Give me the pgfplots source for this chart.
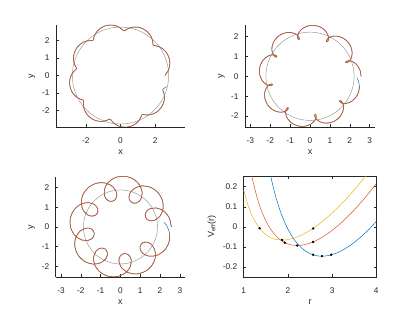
\documentclass[border=0pt]{standalone}
\usepackage{fontspec}
\setmainfont{Liberation Sans}
\usepackage{pgfplots}
\pgfplotsset{compat=1.18}
\definecolor{mblue}{rgb}{0,0.447,0.741}
\definecolor{morange}{rgb}{0.85,0.325,0.098}
\definecolor{myellow}{rgb}{0.929,0.694,0.125}
\definecolor{axgray}{rgb}{0.15,0.15,0.15}
\definecolor{circgray}{rgb}{0.58,0.58,0.58}
\pgfplotsset{
  base/.style={
    scale only axis, anchor=south west,
    axis line style={axgray, line width=0.5pt, -},
    tick style={axgray, line width=0.5pt},
    major tick length=2.5pt,
    tick align=inside,
    ticklabel style={font=\fontsize{8.3}{10}\selectfont, text=axgray},
    xticklabel style={yshift=-7pt},
    yticklabel style={xshift=-3pt},
    label style={font=\fontsize{9}{11}\selectfont, text=axgray},
    /pgf/number format/assume math mode=true,
  },
  orbit/.style={
    base,
    axis x line*=bottom, axis y line*=left,
    xlabel=x, ylabel=y,
  },
  bl/.style={mblue, line width=0.5pt, smooth, data cs=polar},
  or/.style={morange, line width=0.6pt, smooth, data cs=polar},
  ci/.style={circgray, line width=0.45pt, smooth, data cs=polar},
}
\begin{document}
\begin{tikzpicture}
\path[use as bounding box] (0,0) rectangle (415pt,312pt);
% ---------------- plot 1 ----------------
\begin{axis}[orbit, at={(56pt,185pt)}, width=129pt, height=102pt,
  xmin=-3.72, xmax=3.72, ymin=-2.95, ymax=2.90,
  xtick={-2,0,2}, ytick={-2,-1,0,1,2},
  xlabel style={at={(axis description cs:0.5,-0.242)}, anchor=center},
  ylabel style={at={(axis description cs:-0.186,0.5)}, anchor=center}]
\addplot[ci] coordinates {(0,2.78) (10,2.78) (20,2.78) (30,2.78) (40,2.78) (50,2.78) (60,2.78) (70,2.78) (80,2.78) (90,2.78) (100,2.78) (110,2.78) (120,2.78) (130,2.78) (140,2.78) (150,2.78) (160,2.78) (170,2.78) (180,2.78) (190,2.78) (200,2.78) (210,2.78) (220,2.78) (230,2.78) (240,2.78) (250,2.78) (260,2.78) (270,2.78) (280,2.78) (290,2.78) (300,2.78) (310,2.78) (320,2.78) (330,2.78) (340,2.78) (350,2.78) (360,2.78)};
\addplot[bl] coordinates {
(0,2.570) (0.60,2.578) (1.30,2.600) (3.32,2.678) (6.47,2.783) (10.72,2.883) (15.82,2.954) (21.37,2.980) (26.92,2.954) (32.02,2.883) (36.27,2.783) (39.42,2.678) (41.44,2.600) (42.14,2.578)
(42.74,2.570) (43.34,2.578) (44.04,2.600) (46.06,2.678) (49.21,2.783) (53.46,2.883) (58.56,2.954) (64.11,2.980) (69.66,2.954) (74.76,2.883) (79.01,2.783) (82.16,2.678) (84.18,2.600) (84.88,2.578)
(85.48,2.570) (86.08,2.578) (86.78,2.600) (88.80,2.678) (91.95,2.783) (96.20,2.883) (101.30,2.954) (106.85,2.980) (112.40,2.954) (117.50,2.883) (121.75,2.783) (124.90,2.678) (126.92,2.600) (127.62,2.578)
(128.21,2.570) (128.81,2.578) (129.51,2.600) (131.53,2.678) (134.68,2.783) (138.93,2.883) (144.03,2.954) (149.58,2.980) (155.13,2.954) (160.23,2.883) (164.48,2.783) (167.63,2.678) (169.65,2.600) (170.35,2.578)
(170.95,2.570) (171.55,2.578) (172.25,2.600) (174.27,2.678) (177.42,2.783) (181.67,2.883) (186.77,2.954) (192.32,2.980) (197.87,2.954) (202.97,2.883) (207.22,2.783) (210.37,2.678) (212.39,2.600) (213.09,2.578)
(213.69,2.570) (214.29,2.578) (214.99,2.600) (217.01,2.678) (220.16,2.783) (224.41,2.883) (229.51,2.954) (235.06,2.980) (240.61,2.954) (245.71,2.883) (249.96,2.783) (253.11,2.678) (255.13,2.600) (255.83,2.578)
(256.43,2.570) (257.03,2.578) (257.73,2.600) (259.75,2.678) (262.90,2.783) (267.15,2.883) (272.25,2.954) (277.80,2.980) (283.35,2.954) (288.45,2.883) (292.70,2.783) (295.85,2.678) (297.87,2.600) (298.57,2.578)
(299.17,2.570) (299.77,2.578) (300.47,2.600) (302.49,2.678) (305.64,2.783) (309.89,2.883) (314.99,2.954) (320.54,2.980) (326.09,2.954) (331.19,2.883) (335.44,2.783) (338.59,2.678) (340.61,2.600) (341.31,2.578)
(341.90,2.570) (342.50,2.578) (343.20,2.600) (345.22,2.678) (346.64,2.729)};
\addplot[or] coordinates {
(0,2.570) (0.60,2.578) (1.30,2.600) (3.32,2.678) (6.47,2.783) (10.72,2.883) (15.82,2.954) (21.37,2.980) (26.92,2.954) (32.02,2.883) (36.27,2.783) (39.42,2.678) (41.44,2.600) (42.14,2.578)
(42.74,2.570) (43.34,2.578) (44.04,2.600) (46.06,2.678) (49.21,2.783) (53.46,2.883) (58.56,2.954) (64.11,2.980) (69.66,2.954) (74.76,2.883) (79.01,2.783) (82.16,2.678) (84.18,2.600) (84.88,2.578)
(85.48,2.570) (86.08,2.578) (86.78,2.600) (88.80,2.678) (91.95,2.783) (96.20,2.883) (101.30,2.954) (106.85,2.980) (112.40,2.954) (117.50,2.883) (121.75,2.783) (124.90,2.678) (126.92,2.600) (127.62,2.578)
(128.21,2.570) (128.81,2.578) (129.51,2.600) (131.53,2.678) (134.68,2.783) (138.93,2.883) (144.03,2.954) (149.58,2.980) (155.13,2.954) (160.23,2.883) (164.48,2.783) (167.63,2.678) (169.65,2.600) (170.35,2.578)
(170.95,2.570) (171.55,2.578) (172.25,2.600) (174.27,2.678) (177.42,2.783) (181.67,2.883) (186.77,2.954) (192.32,2.980) (197.87,2.954) (202.97,2.883) (207.22,2.783) (210.37,2.678) (212.39,2.600) (213.09,2.578)
(213.69,2.570) (214.29,2.578) (214.99,2.600) (217.01,2.678) (220.16,2.783) (224.41,2.883) (229.51,2.954) (235.06,2.980) (240.61,2.954) (245.71,2.883) (249.96,2.783) (253.11,2.678) (255.13,2.600) (255.83,2.578)
(256.43,2.570) (257.03,2.578) (257.73,2.600) (259.75,2.678) (262.90,2.783) (267.15,2.883) (272.25,2.954) (277.80,2.980) (283.35,2.954) (288.45,2.883) (292.70,2.783) (295.85,2.678) (297.87,2.600) (298.57,2.578)
(299.17,2.570) (299.77,2.578) (300.47,2.600) (302.49,2.678) (305.64,2.783) (309.89,2.883) (314.99,2.954) (320.54,2.980) (326.09,2.954) (331.19,2.883) (335.44,2.783) (338.59,2.678) (340.61,2.600) (341.31,2.578)
(341.90,2.570)};
\end{axis}
% ---------------- plot 2 ----------------
\begin{axis}[orbit, at={(245pt,185pt)}, width=130pt, height=102pt,
  xmin=-3.27, xmax=3.27, ymin=-2.55, ymax=2.58,
  xtick={-3,-2,-1,0,1,2,3}, ytick={-2,-1,0,1,2},
  xlabel style={at={(axis description cs:0.5,-0.242)}, anchor=center},
  ylabel style={at={(axis description cs:-0.182,0.5)}, anchor=center}]
\addplot[ci] coordinates {(0,2.22) (10,2.22) (20,2.22) (30,2.22) (40,2.22) (50,2.22) (60,2.22) (70,2.22) (80,2.22) (90,2.22) (100,2.22) (110,2.22) (120,2.22) (130,2.22) (140,2.22) (150,2.22) (160,2.22) (170,2.22) (180,2.22) (190,2.22) (200,2.22) (210,2.22) (220,2.22) (230,2.22) (240,2.22) (250,2.22) (260,2.22) (270,2.22) (280,2.22) (290,2.22) (300,2.22) (310,2.22) (320,2.22) (330,2.22) (340,2.22) (350,2.22) (360,2.22)};
\addplot[bl] coordinates {
(0,2.570) (7.18,2.532) (13.68,2.426) (18.78,2.273) (21.80,2.108) (22.48,2.015) (22.21,1.952) (21.37,1.930) (20.53,1.952) (20.26,2.015) (20.94,2.108) (23.96,2.273) (29.06,2.426) (35.56,2.532)
(42.74,2.570) (49.92,2.532) (56.42,2.426) (61.52,2.273) (64.54,2.108) (65.22,2.015) (64.95,1.952) (64.11,1.930) (63.27,1.952) (63.00,2.015) (63.68,2.108) (66.70,2.273) (71.80,2.426) (78.30,2.532)
(85.48,2.570) (92.66,2.532) (99.16,2.426) (104.26,2.273) (107.28,2.108) (107.96,2.015) (107.69,1.952) (106.85,1.930) (106.01,1.952) (105.74,2.015) (106.42,2.108) (109.44,2.273) (114.54,2.426) (121.04,2.532)
(128.21,2.570) (135.39,2.532) (141.89,2.426) (146.99,2.273) (150.01,2.108) (150.69,2.015) (150.42,1.952) (149.58,1.930) (148.74,1.952) (148.47,2.015) (149.15,2.108) (152.17,2.273) (157.27,2.426) (163.77,2.532)
(170.95,2.570) (178.13,2.532) (184.63,2.426) (189.73,2.273) (192.75,2.108) (193.43,2.015) (193.16,1.952) (192.32,1.930) (191.48,1.952) (191.21,2.015) (191.89,2.108) (194.91,2.273) (200.01,2.426) (206.51,2.532)
(213.69,2.570) (220.87,2.532) (227.37,2.426) (232.47,2.273) (235.49,2.108) (236.17,2.015) (235.90,1.952) (235.06,1.930) (234.22,1.952) (233.95,2.015) (234.63,2.108) (237.65,2.273) (242.75,2.426) (249.25,2.532)
(256.43,2.570) (263.61,2.532) (270.11,2.426) (275.21,2.273) (278.23,2.108) (278.91,2.015) (278.64,1.952) (277.80,1.930) (276.96,1.952) (276.69,2.015) (277.37,2.108) (280.39,2.273) (285.49,2.426) (291.99,2.532)
(299.17,2.570) (306.35,2.532) (312.85,2.426) (317.95,2.273) (320.97,2.108) (321.65,2.015) (321.38,1.952) (320.54,1.930) (319.70,1.952) (319.43,2.015) (320.11,2.108) (323.13,2.273) (328.23,2.426) (334.73,2.532)
(341.90,2.570) (349.08,2.532) (355.58,2.426) (358.35,2.353)};
\addplot[or] coordinates {
(0,2.570) (7.18,2.532) (13.68,2.426) (18.78,2.273) (21.80,2.108) (22.48,2.015) (22.21,1.952) (21.37,1.930) (20.53,1.952) (20.26,2.015) (20.94,2.108) (23.96,2.273) (29.06,2.426) (35.56,2.532)
(42.74,2.570) (49.92,2.532) (56.42,2.426) (61.52,2.273) (64.54,2.108) (65.22,2.015) (64.95,1.952) (64.11,1.930) (63.27,1.952) (63.00,2.015) (63.68,2.108) (66.70,2.273) (71.80,2.426) (78.30,2.532)
(85.48,2.570) (92.66,2.532) (99.16,2.426) (104.26,2.273) (107.28,2.108) (107.96,2.015) (107.69,1.952) (106.85,1.930) (106.01,1.952) (105.74,2.015) (106.42,2.108) (109.44,2.273) (114.54,2.426) (121.04,2.532)
(128.21,2.570) (135.39,2.532) (141.89,2.426) (146.99,2.273) (150.01,2.108) (150.69,2.015) (150.42,1.952) (149.58,1.930) (148.74,1.952) (148.47,2.015) (149.15,2.108) (152.17,2.273) (157.27,2.426) (163.77,2.532)
(170.95,2.570) (178.13,2.532) (184.63,2.426) (189.73,2.273) (192.75,2.108) (193.43,2.015) (193.16,1.952) (192.32,1.930) (191.48,1.952) (191.21,2.015) (191.89,2.108) (194.91,2.273) (200.01,2.426) (206.51,2.532)
(213.69,2.570) (220.87,2.532) (227.37,2.426) (232.47,2.273) (235.49,2.108) (236.17,2.015) (235.90,1.952) (235.06,1.930) (234.22,1.952) (233.95,2.015) (234.63,2.108) (237.65,2.273) (242.75,2.426) (249.25,2.532)
(256.43,2.570) (263.61,2.532) (270.11,2.426) (275.21,2.273) (278.23,2.108) (278.91,2.015) (278.64,1.952) (277.80,1.930) (276.96,1.952) (276.69,2.015) (277.37,2.108) (280.39,2.273) (285.49,2.426) (291.99,2.532)
(299.17,2.570) (306.35,2.532) (312.85,2.426) (317.95,2.273) (320.97,2.108) (321.65,2.015) (321.38,1.952) (320.54,1.930) (319.70,1.952) (319.43,2.015) (320.11,2.108) (323.13,2.273) (328.23,2.426) (334.73,2.532)
(341.90,2.570) (349.08,2.532)};
\end{axis}
% ---------------- plot 3 ----------------
\begin{axis}[orbit, at={(55.7pt,35pt)}, width=129.3pt, height=100.3pt,
  xmin=-3.27, xmax=3.26, ymin=-2.53, ymax=2.54,
  xtick={-3,-2,-1,0,1,2,3}, ytick={-2,-1,0,1,2},
  xlabel style={at={(axis description cs:0.5,-0.246)}, anchor=center},
  ylabel style={at={(axis description cs:-0.186,0.5)}, anchor=center}]
\addplot[ci] coordinates {(0,1.87) (10,1.87) (20,1.87) (30,1.87) (40,1.87) (50,1.87) (60,1.87) (70,1.87) (80,1.87) (90,1.87) (100,1.87) (110,1.87) (120,1.87) (130,1.87) (140,1.87) (150,1.87) (160,1.87) (170,1.87) (180,1.87) (190,1.87) (200,1.87) (210,1.87) (220,1.87) (230,1.87) (240,1.87) (250,1.87) (260,1.87) (270,1.87) (280,1.87) (290,1.87) (300,1.87) (310,1.87) (320,1.87) (330,1.87) (340,1.87) (350,1.87) (360,1.87)};
\addplot[bl] coordinates {
(0,2.570) (10.49,2.507) (20.13,2.327) (27.80,2.056) (31.74,1.743) (31.58,1.596) (29.66,1.472) (26.06,1.389) (21.37,1.360) (16.68,1.389) (13.08,1.472) (11.16,1.596) (11.00,1.743) (14.94,2.056) (22.61,2.327) (32.25,2.507)
(42.74,2.570) (53.23,2.507) (62.87,2.327) (70.54,2.056) (74.48,1.743) (74.32,1.596) (72.40,1.472) (68.80,1.389) (64.11,1.360) (59.42,1.389) (55.82,1.472) (53.90,1.596) (53.74,1.743) (57.68,2.056) (65.35,2.327) (74.99,2.507)
(85.48,2.570) (95.97,2.507) (105.61,2.327) (113.28,2.056) (117.22,1.743) (117.06,1.596) (115.14,1.472) (111.54,1.389) (106.85,1.360) (102.16,1.389) (98.56,1.472) (96.64,1.596) (96.48,1.743) (100.42,2.056) (108.09,2.327) (117.73,2.507)
(128.21,2.570) (138.70,2.507) (148.34,2.327) (156.01,2.056) (159.95,1.743) (159.79,1.596) (157.87,1.472) (154.27,1.389) (149.58,1.360) (144.89,1.389) (141.29,1.472) (139.37,1.596) (139.21,1.743) (143.15,2.056) (150.82,2.327) (160.46,2.507)
(170.95,2.570) (181.44,2.507) (191.08,2.327) (198.75,2.056) (202.69,1.743) (202.53,1.596) (200.61,1.472) (197.01,1.389) (192.32,1.360) (187.63,1.389) (184.03,1.472) (182.11,1.596) (181.95,1.743) (185.89,2.056) (193.56,2.327) (203.20,2.507)
(213.69,2.570) (224.18,2.507) (233.82,2.327) (241.49,2.056) (245.43,1.743) (245.27,1.596) (243.35,1.472) (239.75,1.389) (235.06,1.360) (230.37,1.389) (226.77,1.472) (224.85,1.596) (224.69,1.743) (228.63,2.056) (236.30,2.327) (245.94,2.507)
(256.43,2.570) (266.92,2.507) (276.56,2.327) (284.23,2.056) (288.17,1.743) (288.01,1.596) (286.09,1.472) (282.49,1.389) (277.80,1.360) (273.11,1.389) (269.51,1.472) (267.59,1.596) (267.43,1.743) (271.37,2.056) (279.04,2.327) (288.68,2.507)
(299.17,2.570) (309.66,2.507) (319.30,2.327) (326.97,2.056) (330.91,1.743) (330.75,1.596) (328.83,1.472) (325.23,1.389) (320.54,1.360) (315.85,1.389) (312.25,1.472) (310.33,1.596) (310.17,1.743) (314.11,2.056) (321.78,2.327) (331.42,2.507)
(341.90,2.570) (352.39,2.507) (362.03,2.327) (366.20,2.201)};
\addplot[or] coordinates {
(0,2.570) (10.49,2.507) (20.13,2.327) (27.80,2.056) (31.74,1.743) (31.58,1.596) (29.66,1.472) (26.06,1.389) (21.37,1.360) (16.68,1.389) (13.08,1.472) (11.16,1.596) (11.00,1.743) (14.94,2.056) (22.61,2.327) (32.25,2.507)
(42.74,2.570) (53.23,2.507) (62.87,2.327) (70.54,2.056) (74.48,1.743) (74.32,1.596) (72.40,1.472) (68.80,1.389) (64.11,1.360) (59.42,1.389) (55.82,1.472) (53.90,1.596) (53.74,1.743) (57.68,2.056) (65.35,2.327) (74.99,2.507)
(85.48,2.570) (95.97,2.507) (105.61,2.327) (113.28,2.056) (117.22,1.743) (117.06,1.596) (115.14,1.472) (111.54,1.389) (106.85,1.360) (102.16,1.389) (98.56,1.472) (96.64,1.596) (96.48,1.743) (100.42,2.056) (108.09,2.327) (117.73,2.507)
(128.21,2.570) (138.70,2.507) (148.34,2.327) (156.01,2.056) (159.95,1.743) (159.79,1.596) (157.87,1.472) (154.27,1.389) (149.58,1.360) (144.89,1.389) (141.29,1.472) (139.37,1.596) (139.21,1.743) (143.15,2.056) (150.82,2.327) (160.46,2.507)
(170.95,2.570) (181.44,2.507) (191.08,2.327) (198.75,2.056) (202.69,1.743) (202.53,1.596) (200.61,1.472) (197.01,1.389) (192.32,1.360) (187.63,1.389) (184.03,1.472) (182.11,1.596) (181.95,1.743) (185.89,2.056) (193.56,2.327) (203.20,2.507)
(213.69,2.570) (224.18,2.507) (233.82,2.327) (241.49,2.056) (245.43,1.743) (245.27,1.596) (243.35,1.472) (239.75,1.389) (235.06,1.360) (230.37,1.389) (226.77,1.472) (224.85,1.596) (224.69,1.743) (228.63,2.056) (236.30,2.327) (245.94,2.507)
(256.43,2.570) (266.92,2.507) (276.56,2.327) (284.23,2.056) (288.17,1.743) (288.01,1.596) (286.09,1.472) (282.49,1.389) (277.80,1.360) (273.11,1.389) (269.51,1.472) (267.59,1.596) (267.43,1.743) (271.37,2.056) (279.04,2.327) (288.68,2.507)
(299.17,2.570) (309.66,2.507) (319.30,2.327) (326.97,2.056) (330.91,1.743) (330.75,1.596) (328.83,1.472) (325.23,1.389) (320.54,1.360) (315.85,1.389) (312.25,1.472) (310.33,1.596) (310.17,1.743) (314.11,2.056) (321.78,2.327) (331.42,2.507)
(341.90,2.570) (352.39,2.507)};
\end{axis}
% ---------------- plot 4 ----------------
\begin{axis}[base, at={(243.7pt,35pt)}, width=132.6pt, height=100.3pt,
  xmin=1, xmax=4, ymin=-0.25, ymax=0.25,
  xtick={1,2,3,4}, ytick={-0.2,-0.1,0,0.1,0.2},
  xlabel=r, ylabel={V\textsubscript{eff}(r)},
  xlabel style={at={(axis description cs:0.5,-0.246)}, anchor=center},
  ylabel style={at={(axis description cs:-0.24,0.5)}, anchor=center},
  clip=true]
\addplot[myellow, line width=0.5pt, smooth] coordinates {
(1.0,0.1834) (1.1,0.1069) (1.2,0.0515) (1.3,0.0113) (1.4,-0.0178) (1.5,-0.0384) (1.6,-0.0523) (1.7,-0.0609) (1.8,-0.0652) (1.9,-0.0659) (2.0,-0.0635) (2.1,-0.0585) (2.2,-0.0511) (2.3,-0.0417) (2.4,-0.0305) (2.5,-0.0175) (2.6,-0.0030) (2.7,0.0129) (2.8,0.0302) (2.9,0.0488) (3.0,0.0686) (3.1,0.0895) (3.2,0.1116) (3.3,0.1347) (3.4,0.1589) (3.5,0.1841) (3.6,0.2103) (3.7,0.2375) (3.8,0.2657)};
\addplot[morange, line width=0.5pt, smooth] coordinates {
(1.15,0.2907) (1.2,0.2365) (1.3,0.1485) (1.4,0.0815) (1.5,0.0304) (1.6,-0.0086) (1.7,-0.0379) (1.8,-0.0596) (1.9,-0.0750) (2.0,-0.0851) (2.1,-0.0909) (2.2,-0.0929) (2.3,-0.0917) (2.4,-0.0876) (2.5,-0.0810) (2.6,-0.0721) (2.7,-0.0612) (2.8,-0.0484) (2.9,-0.0338) (3.0,-0.0177) (3.1,0.0000) (3.2,0.0191) (3.3,0.0395) (3.4,0.0612) (3.5,0.0842) (3.6,0.1083) (3.7,0.1336) (3.8,0.1600) (3.9,0.1874) (4.0,0.2159)};
\addplot[mblue, line width=0.5pt, smooth] coordinates {
(1.55,0.3163) (1.6,0.2623) (1.7,0.1705) (1.8,0.0965) (1.9,0.0368) (2.0,-0.0112) (2.1,-0.0496) (2.2,-0.0798) (2.3,-0.1032) (2.4,-0.1207) (2.5,-0.1332) (2.6,-0.1412) (2.7,-0.1454) (2.8,-0.1460) (2.9,-0.1436) (3.0,-0.1383) (3.1,-0.1305) (3.2,-0.1204) (3.3,-0.1081) (3.4,-0.0939) (3.5,-0.0778) (3.6,-0.0599) (3.7,-0.0404) (3.8,-0.0193) (3.9,0.0032) (4.0,0.0272)};
\addplot[only marks, mark=*, mark size=1pt, black] coordinates {
(1.36,-0.007) (1.87,-0.066) (2.57,-0.008)
(1.93,-0.079) (2.21,-0.093) (2.57,-0.075)
(2.57,-0.139) (2.77,-0.146) (2.98,-0.139)};
\end{axis}
\end{tikzpicture}
\end{document}
